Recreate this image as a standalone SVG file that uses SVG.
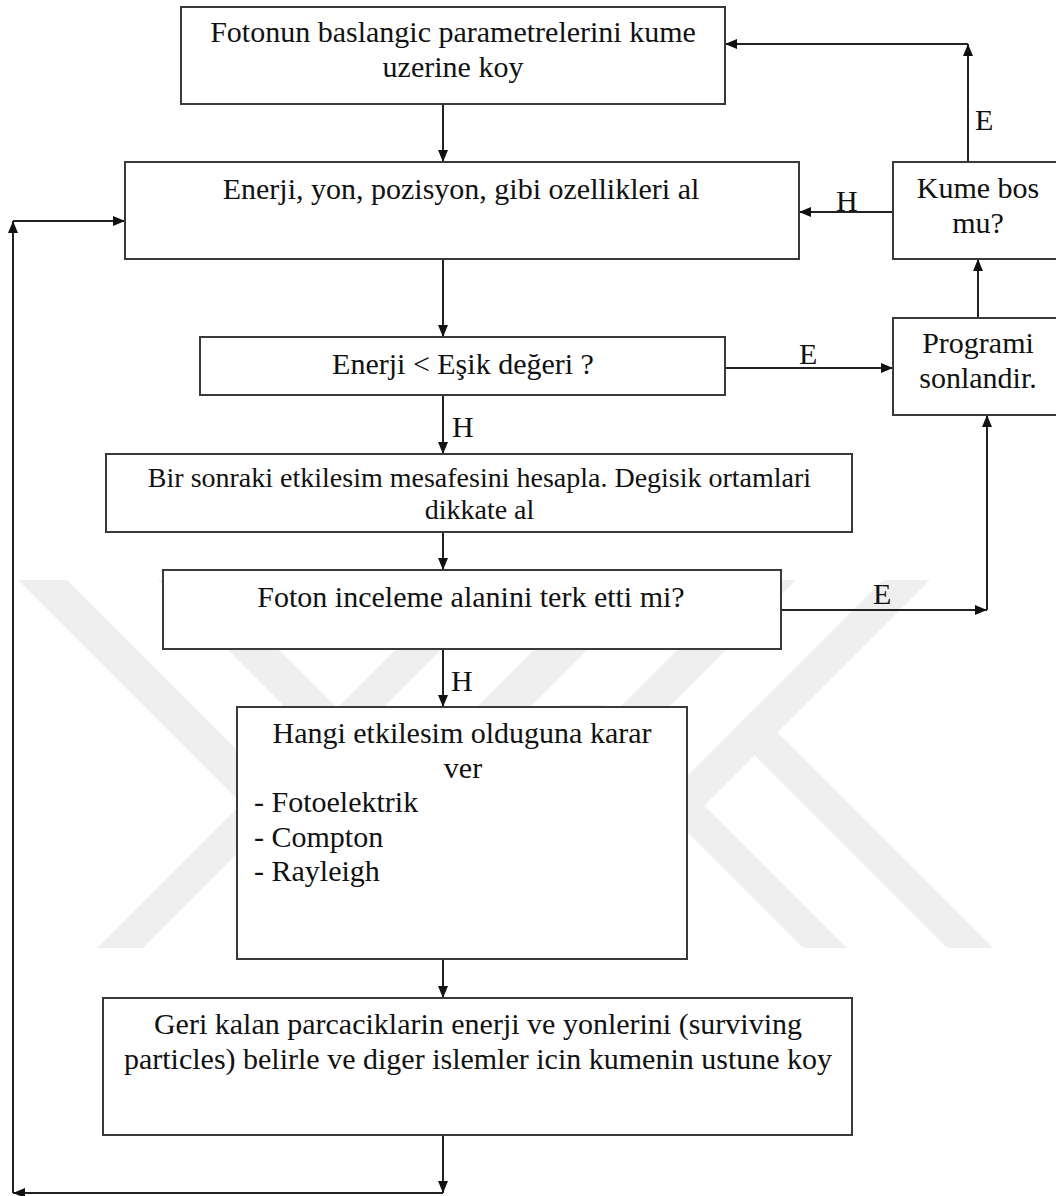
<svg xmlns="http://www.w3.org/2000/svg" width="1056" height="1196" viewBox="0 0 1056 1196">
  <style>
    .box { fill: #ffffff; stroke: #3a3a3a; stroke-width: 2; }
    .t { font-family: "Liberation Serif", "Times New Roman", serif; font-size: 30px; fill: #111111; }
    .tc { text-anchor: middle; }
    .s { font-size: 28px; }
    .ln { fill: none; stroke: #222222; stroke-width: 2; }
    .wm { fill: #efefef; stroke: none; }
  </style>
  <defs>
    <marker id="arr" markerUnits="userSpaceOnUse" markerWidth="12" markerHeight="10" refX="12" refY="5" orient="auto">
      <path d="M0,0 L12,5 L0,10 z" fill="#111111"/>
    </marker>
  </defs>
  <rect width="1056" height="1196" fill="#ffffff"/>

  <g id="watermark">
    <polygon class="wm" points="18,580 67,580 435,948 386,948"/>
    <polygon class="wm" points="465,580 511,580 143,948 97,948"/>
    <polygon class="wm" points="158,580 209,580 400,771 349,771"/>
    <polygon class="wm" points="604,580 657,580 470,767 417,767"/>
    <polygon class="wm" points="747,580 796,580 610,766 561,766"/>
    <polygon class="wm" points="883,580 930,580 670,840 623,840"/>
    <polygon class="wm" points="731,732 754,709 993,948 947,948"/>
    <polygon class="wm" points="560,705 604,705 847,948 803,948"/>
  </g>

  <g id="connectors">
    <line class="ln" x1="443" y1="104" x2="443" y2="162" marker-end="url(#arr)"/>
    <line class="ln" x1="443" y1="259" x2="443" y2="337" marker-end="url(#arr)"/>
    <line class="ln" x1="443" y1="395" x2="443" y2="454" marker-end="url(#arr)"/>
    <line class="ln" x1="443" y1="532" x2="443" y2="570" marker-end="url(#arr)"/>
    <line class="ln" x1="443" y1="649" x2="443" y2="707" marker-end="url(#arr)"/>
    <line class="ln" x1="443" y1="959" x2="443" y2="998" marker-end="url(#arr)"/>
    <line class="ln" x1="443" y1="1135" x2="443" y2="1193" marker-end="url(#arr)"/>
    <line class="ln" x1="443" y1="1193" x2="13" y2="1193" marker-end="url(#arr)"/>
    <line class="ln" x1="13" y1="1193" x2="13" y2="221" marker-end="url(#arr)"/>
    <line class="ln" x1="13" y1="221" x2="125" y2="221" marker-end="url(#arr)"/>
    <line class="ln" x1="725" y1="368" x2="893" y2="368" marker-end="url(#arr)"/>
    <line class="ln" x1="781" y1="610" x2="987" y2="610" marker-end="url(#arr)"/>
    <line class="ln" x1="987" y1="610" x2="987" y2="415" marker-end="url(#arr)"/>
    <line class="ln" x1="978" y1="318" x2="978" y2="259" marker-end="url(#arr)"/>
    <line class="ln" x1="893" y1="212" x2="799" y2="212" marker-end="url(#arr)"/>
    <line class="ln" x1="968" y1="162" x2="968" y2="44" marker-end="url(#arr)"/>
    <line class="ln" x1="968" y1="44" x2="725" y2="44" marker-end="url(#arr)"/>
    <text class="t" x="975" y="130">E</text>
    <text class="t" x="836" y="211">H</text>
    <text class="t" x="799" y="364">E</text>
    <text class="t" x="452" y="437">H</text>
    <text class="t" x="873" y="604">E</text>
    <text class="t" x="451" y="691">H</text>
  </g>

  <g id="n1">
    <rect class="box" x="181" y="7" width="544" height="97"/>
    <text class="t tc" x="453" y="42">Fotonun baslangic parametrelerini kume</text>
    <text class="t tc" x="453" y="76.5">uzerine koy</text>
  </g>
  <g id="n2">
    <rect class="box" x="125" y="162" width="674" height="97"/>
    <text class="t tc" x="461" y="199">Enerji, yon, pozisyon, gibi ozellikleri al</text>
  </g>
  <g id="n3">
    <rect class="box" x="200" y="337" width="525" height="58"/>
    <text class="t tc" x="463" y="374">Enerji &lt; Eşik değeri ?</text>
  </g>
  <g id="n4">
    <rect class="box" x="106" y="454" width="746" height="78"/>
    <text class="t s tc" x="479.5" y="487">Bir sonraki etkilesim mesafesini hesapla. Degisik ortamlari</text>
    <text class="t s tc" x="479.5" y="519">dikkate al</text>
  </g>
  <g id="n5">
    <rect class="box" x="163" y="570" width="618" height="79"/>
    <text class="t tc" x="471" y="607">Foton inceleme alanini terk etti mi?</text>
  </g>
  <g id="n6">
    <rect class="box" x="237" y="707" width="450" height="252"/>
    <text class="t tc" x="462" y="743">Hangi etkilesim olduguna karar</text>
    <text class="t tc" x="463" y="777.5">ver</text>
    <text class="t" x="254" y="812">- Fotoelektrik</text>
    <text class="t" x="254" y="846.5">- Compton</text>
    <text class="t" x="254" y="881">- Rayleigh</text>
  </g>
  <g id="n7">
    <rect class="box" x="103" y="998" width="749" height="137"/>
    <text class="t tc" x="478" y="1034">Geri kalan parcaciklarin enerji ve yonlerini (surviving</text>
    <text class="t tc" x="478" y="1068.5">particles) belirle ve diger islemler icin kumenin ustune koy</text>
  </g>
  <g id="n8">
    <rect class="box" x="893" y="162" width="171" height="97"/>
    <text class="t tc" x="978" y="198">Kume bos</text>
    <text class="t tc" x="978" y="233">mu?</text>
  </g>
  <g id="n9">
    <rect class="box" x="893" y="318" width="171" height="97"/>
    <text class="t tc" x="978" y="353">Programi</text>
    <text class="t tc" x="978" y="388">sonlandir.</text>
  </g>
</svg>
